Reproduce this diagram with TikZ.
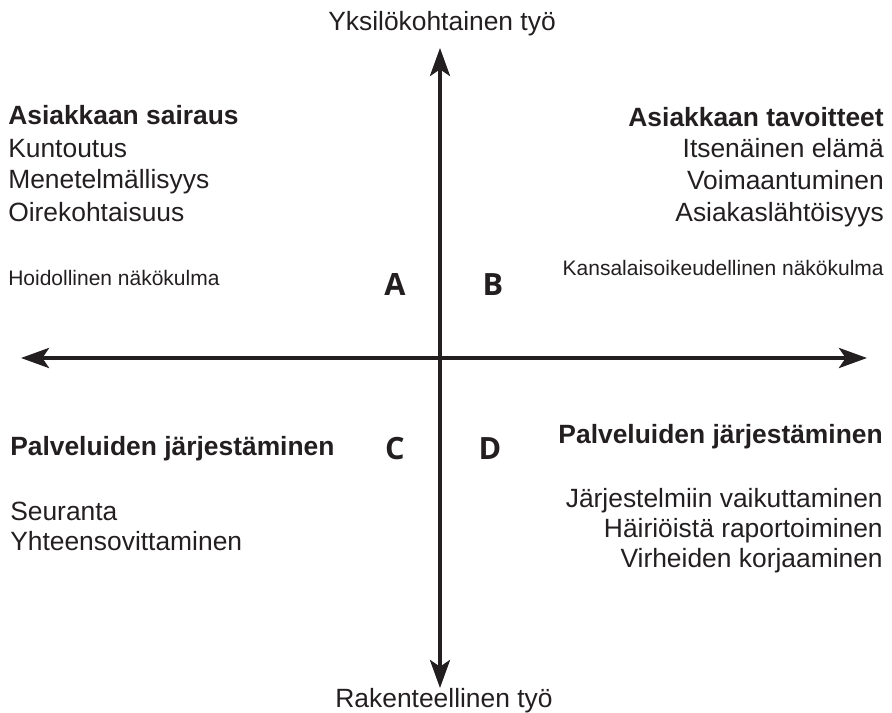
\documentclass[tikz,border=0pt]{standalone}
\usepackage{fontspec}
\setmainfont{Liberation Sans}
\newfontfamily\letterfont{Open Sans}
\usetikzlibrary{arrows.meta}
\usetikzlibrary{positioning}
\definecolor{ink}{HTML}{231F20}
\tikzset{
    axis/.style={
           draw=ink, line width=3pt,
           >={Stealth[length=21pt,width=15pt,inset=5pt]},
           <->,
           },
}
\tikzset{
    lbl/.style={
           text=ink,
           inner sep=0pt,
           font=\fontsize{19.8}{24}\selectfont,
           },
    head/.style={lbl, font=\fontsize{19.8}{24}\selectfont\bfseries},
    small/.style={lbl, font=\fontsize{15.75}{19}\selectfont},
    quad/.style={
           text=ink,
           inner sep=0pt,
           font=\letterfont\fontsize{23}{28}\selectfont\bfseries,
           },
}
\begin{document}
\begin{tikzpicture}[x=0.75pt,y=-0.75pt]
\useasboundingbox (0,0) rectangle (892,713);
% axes
\coordinate (top) at (440,48);
\coordinate (bot) at (440,688);
\coordinate (lft) at (21,358);
\coordinate (rgt) at (867,358);
\draw[axis] (bot) -- (top);
\draw[axis] (lft) -- (rgt);
% axis labels
\node[lbl,anchor=base] (yks) at (442,31) {Yksilökohtainen työ};
\node[lbl,anchor=base] (rak) at (444,707) {Rakenteellinen työ};
% quadrant A
\node[head,anchor=base west] (sairaus) at (8,125) {Asiakkaan sairaus};
\node[lbl,anchor=base west] (kunt) at (8,157) {Kuntoutus};
\node[lbl,anchor=base west] (mene) at (8,189) {Menetelmällisyys};
\node[lbl,anchor=base west] (oire) at (8,221) {Oirekohtaisuus};
\node[small,anchor=base west] (hoid) at (8,285) {Hoidollinen näkökulma};
% quadrant B
\node[head,anchor=base east] (tavoit) at (884,127) {Asiakkaan tavoitteet};
\node[lbl,anchor=base east] (itsen) at (884,158) {Itsenäinen elämä};
\node[lbl,anchor=base east] (voima) at (884,190) {Voimaantuminen};
\node[lbl,anchor=base east] (lahto) at (884,221) {Asiakaslähtöisyys};
\node[small,anchor=base east] (kans) at (884,275) {Kansalaisoikeudellinen näkökulma};
% quadrant C
\node[head,anchor=base west] (palvC) at (10,455) {Palveluiden järjestäminen};
\node[lbl,anchor=base west] (seur) at (10,520) {Seuranta};
\node[lbl,anchor=base west] (yht) at (10,550) {Yhteensovittaminen};
% quadrant D
\node[head,anchor=base east] (palvD) at (883,443) {Palveluiden järjestäminen};
\node[lbl,anchor=base east] (jarj) at (883,507) {Järjestelmiin vaikuttaminen};
\node[lbl,anchor=base east] (hair) at (883,537) {Häiriöistä raportoiminen};
\node[lbl,anchor=base east] (virh) at (883,567) {Virheiden korjaaminen};
% letters
\node[quad,anchor=base] (A) at (395,295) {A};
\node[quad,anchor=base] (B) at (493,295) {B};
\node[quad,anchor=base] (C) at (395,459) {C};
\node[quad,anchor=base] (D) at (490,459) {D};
\end{tikzpicture}
\end{document}
